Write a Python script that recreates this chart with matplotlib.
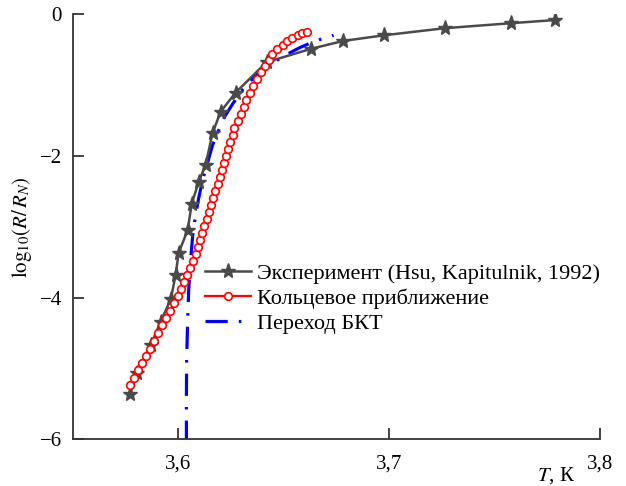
import matplotlib
matplotlib.use('Agg')
import matplotlib.pyplot as plt

plt.rcParams['font.family'] = 'serif'
plt.rcParams['font.serif'] = ['Liberation Serif', 'DejaVu Serif']
plt.rcParams['mathtext.fontset'] = 'stix'
plt.rcParams['lines.scale_dashes'] = False

# experiment (stars)
t_exp = [3.5769, 3.5803, 3.5869, 3.5916, 3.5964, 3.5987, 3.6001, 3.6044, 3.6063, 3.6096,
         3.6129, 3.6162, 3.6200, 3.6271, 3.6418, 3.6631, 3.6782, 3.6976, 3.7265, 3.7578, 3.7786]
r_exp = [-5.36, -5.06, -4.67, -4.34, -4.02, -3.68, -3.37, -3.05, -2.68, -2.37,
         -2.13, -1.68, -1.38, -1.11, -0.68, -0.49, -0.38, -0.30, -0.20, -0.13, -0.085]

# ring approximation (circles)
t_ring = [3.5769, 3.5788, 3.5807, 3.5826, 3.5845, 3.5864, 3.5883, 3.5902, 3.5921, 3.5940,
          3.5959, 3.5978, 3.5997, 3.6011, 3.6025, 3.6039, 3.6054, 3.6068, 3.6082, 3.6091,
          3.6101, 3.6110, 3.6120, 3.6134, 3.6144, 3.6153, 3.6162, 3.6172, 3.6186, 3.6196,
          3.6205, 3.6214, 3.6224, 3.6233, 3.6243, 3.6257, 3.6266, 3.6281, 3.6295, 3.6309,
          3.6323, 3.6338, 3.6352, 3.6371, 3.6390, 3.6409, 3.6428, 3.6446, 3.6470, 3.6494,
          3.6517, 3.6541, 3.6565, 3.6588, 3.6612]
r_ring = [-5.23, -5.13, -5.02, -4.92, -4.82, -4.72, -4.61, -4.50, -4.39, -4.29,
          -4.19, -4.08, -3.98, -3.88, -3.78, -3.68, -3.58, -3.48, -3.39, -3.29,
          -3.19, -3.09, -2.99, -2.89, -2.79, -2.69, -2.60, -2.50, -2.40, -2.30,
          -2.20, -2.10, -2.00, -1.90, -1.81, -1.71, -1.61, -1.51, -1.41, -1.31,
          -1.21, -1.11, -1.02, -0.92, -0.82, -0.73, -0.65, -0.56, -0.49, -0.44,
          -0.38, -0.34, -0.30, -0.27, -0.25]

# BKT transition (dash-dot)
t_bkt = [3.6038, 3.6038, 3.6039, 3.6044, 3.6049, 3.6058, 3.6068, 3.6082, 3.6096, 3.6115,
         3.6139, 3.6162, 3.6191, 3.6219, 3.6257, 3.6304, 3.6366, 3.6437, 3.6508, 3.6579,
         3.6650, 3.6736]
r_bkt = [-6.05, -5.44, -4.88, -4.32, -3.89, -3.47, -3.12, -2.83, -2.60, -2.34,
         -2.09, -1.85, -1.64, -1.45, -1.27, -1.07, -0.87, -0.71, -0.58, -0.47,
         -0.38, -0.30]

labels = ['Эксперимент (Hsu, Kapitulnik, 1992)', 'Кольцевое приближение', 'Переход БКТ']
xticks = [3.6, 3.7, 3.8]
xticklabels = ['3,6', '3,7', '3,8']
yticks = [0, -2, -4, -6]
yticklabels = ['0', '\u22122', '\u22124', '\u22126']

fig = plt.figure(figsize=(6.26, 4.86), dpi=100)
ax = fig.add_axes([0.1166, 0.0961, 0.8419, 0.8751])

ax.plot(t_exp, r_exp, color='#4a4a4a', lw=1.8, marker='*', ms=11, label=labels[0], zorder=3)
ax.plot(t_ring, r_ring, color='red', lw=1.6, marker='o', ms=5.5, mfc='white', mec='red',
        mew=1.2, label=labels[1], zorder=4)
ax.plot(t_bkt, r_bkt, color='#0000ff', lw=2.3, dashes=(16, 8, 1.8, 8), label=labels[2], zorder=2)

ax.set_xlim(3.55, 3.8)
ax.set_ylim(-6, 0)
ax.set_xticks(xticks)
ax.set_xticklabels(xticklabels)
ax.set_yticks(yticks)
ax.set_yticklabels(yticklabels)

for s in ['top', 'right']:
    ax.spines[s].set_visible(False)
for s in ['left', 'bottom']:
    ax.spines[s].set_linewidth(1.3)
    ax.spines[s].set_color('#333333')
ax.tick_params(direction='in', length=8, width=1.3, color='#333333', labelsize=15)
ax.tick_params(axis='x', pad=11)
ax.tick_params(axis='y', pad=8)

ax.set_ylabel(r'$\mathrm{log}_{10}(R/\,R_N)$', fontsize=15, labelpad=4)
ax.text(0.917, -0.085, r'$T$, К', transform=ax.transAxes, fontsize=15,
        ha='center', va='center')

ax.legend(loc='upper left', bbox_to_anchor=(0.25, 0.413), frameon=False, fontsize=16,
          handlelength=2.1, handletextpad=0.25, labelspacing=0.2, borderpad=0,
          borderaxespad=0)

fig.savefig('out.png', dpi=100)
